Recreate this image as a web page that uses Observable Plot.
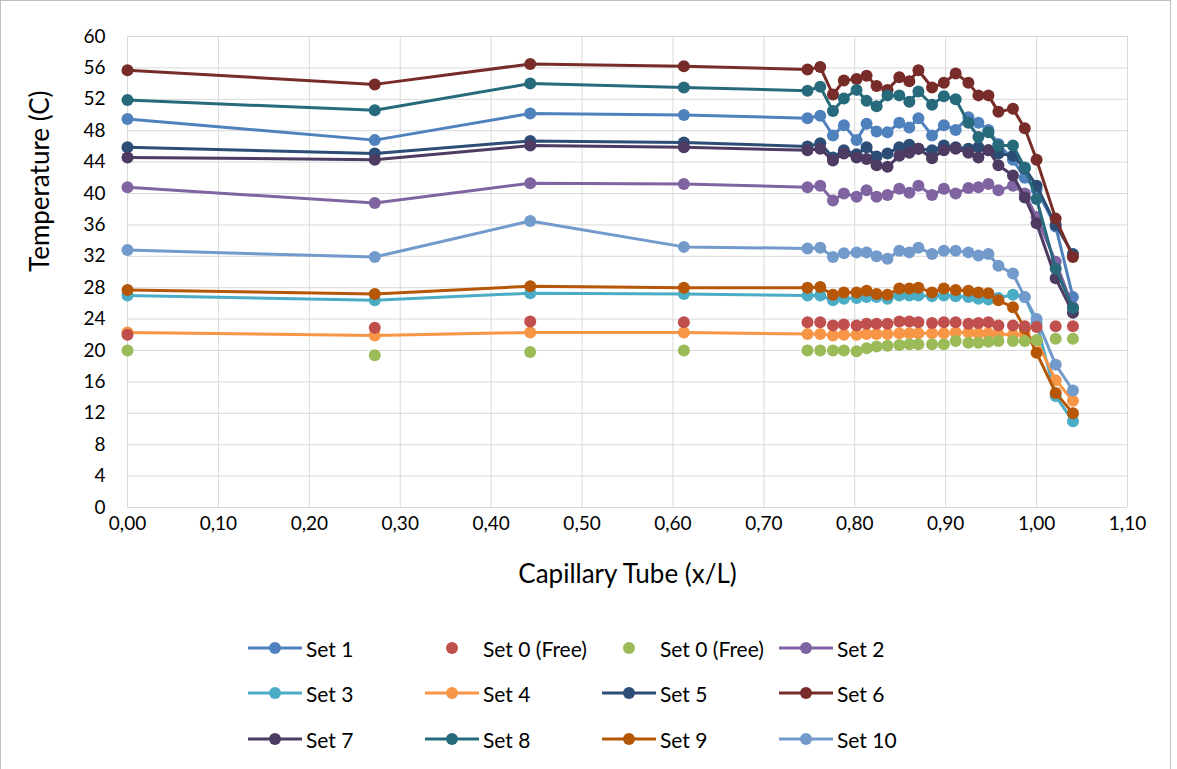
<!DOCTYPE html>
<html>
<head>
<meta charset="utf-8">
<script src="https://cdn.jsdelivr.net/npm/d3@7"></script>
<script src="https://cdn.jsdelivr.net/npm/@observablehq/plot@0.6"></script>
<style>
  body { margin: 0; background: #fff; }
  #chart { position: relative; width: 1169px; height: 800px; border: 1px solid #bfbfbf; background: #fff; font-family: Lato, "Open Sans", sans-serif; }
  #legend .item { position: absolute; display: flex; align-items: center; height: 26px; font-size: 21px; color: #000; white-space: nowrap; }
  #legend .item svg { margin-right: 4px; }
</style>
</head>
<body>
<div id="chart"><div id="plot"></div><div id="legend"></div></div>
<script>
// x positions (x/L)
const X = [0, 0.272, 0.443, 0.612, 0.748, 0.762, 0.776, 0.788, 0.802, 0.813, 0.824, 0.836, 0.849, 0.860, 0.870, 0.885, 0.898, 0.911, 0.925, 0.936, 0.947, 0.958, 0.974, 0.987, 1.000, 1.021, 1.040];

const set1  = [49.5, 46.8, 50.2, 50.0, 49.6, 49.9, 47.4, 48.7, 46.8, 48.9, 47.9, 47.8, 49.0, 48.4, 49.6, 47.4, 48.7, 48.1, 49.7, 49.0, 48.1, 46.3, 44.3, 42.0, 40.5, 35.8, 26.8];
const free0red   = [22.0, 22.9, 23.7, 23.6, 23.6, 23.6, 23.2, 23.3, 23.2, 23.4, 23.4, 23.4, 23.7, 23.7, 23.6, 23.5, 23.6, 23.6, 23.4, 23.5, 23.6, 23.2, 23.2, 23.1, 23.0, 23.1, 23.1];
const free0green = [20.0, 19.4, 19.8, 20.0, 20.0, 20.0, 20.0, 20.0, 19.9, 20.3, 20.5, 20.6, 20.7, 20.8, 20.8, 20.8, 20.8, 21.2, 21.0, 21.0, 21.1, 21.2, 21.2, 21.2, 21.3, 21.5, 21.5];
const set2  = [40.8, 38.8, 41.3, 41.2, 40.8, 41.0, 39.1, 40.0, 39.6, 40.4, 39.6, 39.8, 40.6, 40.1, 41.0, 39.8, 40.6, 40.0, 40.7, 40.8, 41.2, 40.4, 41.0, 40.0, 37.0, 31.3, 25.5];
const set3  = [27.0, 26.4, 27.3, 27.2, 27.0, 27.0, 26.4, 26.6, 26.7, 26.8, 26.8, 26.6, 27.0, 27.0, 27.0, 26.9, 27.0, 26.9, 26.8, 26.6, 26.5, 26.7, 27.1, 26.8, 23.5, 14.2, 11.0];
const set4  = [22.3, 21.9, 22.3, 22.3, 22.1, 22.1, 21.9, 22.0, 22.0, 22.1, 22.1, 22.1, 22.2, 22.2, 22.2, 22.2, 22.2, 22.3, 22.3, 22.2, 22.2, 22.1, 22.0, 22.0, 21.3, 16.2, 13.6];
const set5  = [45.9, 45.1, 46.7, 46.5, 46.0, 46.4, 44.6, 45.5, 45.0, 45.9, 44.7, 45.1, 45.9, 46.2, 45.7, 45.5, 46.1, 45.9, 45.7, 45.9, 45.5, 45.1, 44.8, 43.2, 41.0, 36.0, 32.3];
const set6  = [55.7, 53.9, 56.5, 56.2, 55.8, 56.1, 52.6, 54.4, 54.6, 55.0, 53.7, 53.2, 54.8, 54.3, 55.7, 53.5, 54.1, 55.3, 54.1, 52.5, 52.5, 50.4, 50.8, 48.3, 44.3, 36.8, 31.9];
const set7  = [44.6, 44.3, 46.1, 45.9, 45.5, 45.7, 44.2, 45.1, 44.6, 44.4, 43.6, 43.4, 44.8, 45.2, 45.7, 44.5, 45.5, 45.7, 45.2, 44.6, 45.5, 43.6, 42.3, 39.5, 36.2, 29.2, 24.8];
const set8  = [51.9, 50.6, 54.0, 53.5, 53.1, 53.6, 50.5, 52.1, 53.2, 51.8, 51.1, 52.5, 52.5, 51.7, 53.0, 51.3, 52.4, 52.0, 49.0, 47.2, 47.8, 46.1, 46.1, 43.3, 39.3, 30.4, 25.4];
const set9  = [27.7, 27.2, 28.2, 28.0, 28.0, 28.1, 27.1, 27.4, 27.4, 27.6, 27.2, 27.1, 27.9, 27.9, 28.0, 27.4, 27.9, 27.7, 27.6, 27.4, 27.3, 26.4, 25.5, 22.8, 19.7, 14.6, 12.0];
const set10 = [32.8, 31.9, 36.5, 33.2, 33.0, 33.1, 31.9, 32.4, 32.5, 32.5, 32.0, 31.7, 32.7, 32.5, 33.1, 32.3, 32.7, 32.7, 32.5, 32.1, 32.3, 30.8, 29.8, 26.8, 24.0, 18.2, 14.9];

const xTicks = [0, 0.1, 0.2, 0.3, 0.4, 0.5, 0.6, 0.7, 0.8, 0.9, 1.0, 1.1];
const yTicks = [0, 4, 8, 12, 16, 20, 24, 28, 32, 36, 40, 44, 48, 52, 56, 60];

// series list: name, values, colour, line?
const series = [
  {name: "Set 1", values: set1, color: "#4F81BD", line: true},
  {name: "Set 0 (Free)", values: free0red, color: "#C0504D", line: false},
  {name: "Set 0 (Free)", values: free0green, color: "#9BBB59", line: false},
  {name: "Set 2", values: set2, color: "#8064A2", line: true},
  {name: "Set 3", values: set3, color: "#4BACC6", line: true},
  {name: "Set 4", values: set4, color: "#F79646", line: true},
  {name: "Set 5", values: set5, color: "#2C4D75", line: true},
  {name: "Set 6", values: set6, color: "#772C2A", line: true},
  {name: "Set 7", values: set7, color: "#4D3B62", line: true},
  {name: "Set 8", values: set8, color: "#276A7C", line: true},
  {name: "Set 9", values: set9, color: "#B65708", line: true},
  {name: "Set 10", values: set10, color: "#729ACA", line: true}
];

const rows = series.map(s => X.map((x, i) => ({x, y: s.values[i]})));
const fmt = d => d3.format(".2f")(d).replace(".", ",");

const marks = [
  Plot.gridX(xTicks, {stroke: "#d9d9d9", strokeOpacity: 1, strokeWidth: 1}),
  Plot.gridY(yTicks, {stroke: "#d9d9d9", strokeOpacity: 1, strokeWidth: 1}),
  Plot.axisX(xTicks, {tickSize: 0, tickPadding: 9, tickFormat: fmt, fontSize: 19, label: null}),
  Plot.axisY(yTicks, {tickSize: 0, tickPadding: 22, fontSize: 19, label: null}),
  Plot.text(["Capillary Tube (x/L)"], {frameAnchor: "bottom", dy: 75, text: d => d, fontSize: 26}),
  Plot.text(["Temperature (C)"], {frameAnchor: "left", dx: -87, rotate: -90, text: d => d, fontSize: 26})
];
series.forEach((s, k) => {
  if (s.line) marks.push(Plot.line(rows[k], {x: "x", y: "y", stroke: s.color, strokeWidth: 3}));
  if (s.line) marks.push(Plot.dot(rows[k], {x: "x", y: "y", fill: s.color, r: 6}));
});
series.forEach((s, k) => {
  if (!s.line) marks.push(Plot.dot(rows[k], {x: "x", y: "y", fill: s.color, r: 6}));
});

const chart = Plot.plot({
  width: 1169,
  height: 610,
  marginLeft: 126,
  marginRight: 43,
  marginTop: 35,
  marginBottom: 104,
  x: {domain: [0, 1.1]},
  y: {domain: [0, 60]},
  style: {fontFamily: "Lato, 'Open Sans', sans-serif", color: "#000", background: "#fff"},
  marks
});
document.getElementById("plot").appendChild(chart);

// legend (3 rows x 4 columns, Excel order)
const legend = document.getElementById("legend");
const colX = [247, 424, 601, 778];
const rowY = [647, 692, 738];
series.forEach((s, k) => {
  const col = k % 4, row = Math.floor(k / 4);
  const item = document.createElement("div");
  item.className = "item";
  item.style.left = colX[col] + "px";
  item.style.top = (rowY[row] - 13) + "px";
  const ns = "http://www.w3.org/2000/svg";
  const svg = document.createElementNS(ns, "svg");
  svg.setAttribute("width", 54); svg.setAttribute("height", 16);
  if (s.line) {
    const l = document.createElementNS(ns, "line");
    l.setAttribute("x1", 0); l.setAttribute("x2", 54); l.setAttribute("y1", 8); l.setAttribute("y2", 8);
    l.setAttribute("stroke", s.color); l.setAttribute("stroke-width", 3);
    svg.appendChild(l);
  }
  const c = document.createElementNS(ns, "circle");
  c.setAttribute("cx", 27); c.setAttribute("cy", 8); c.setAttribute("r", 6); c.setAttribute("fill", s.color);
  svg.appendChild(c);
  item.appendChild(svg);
  const t = document.createElement("span");
  t.textContent = s.name;
  item.appendChild(t);
  legend.appendChild(item);
});
</script>
</body>
</html>
